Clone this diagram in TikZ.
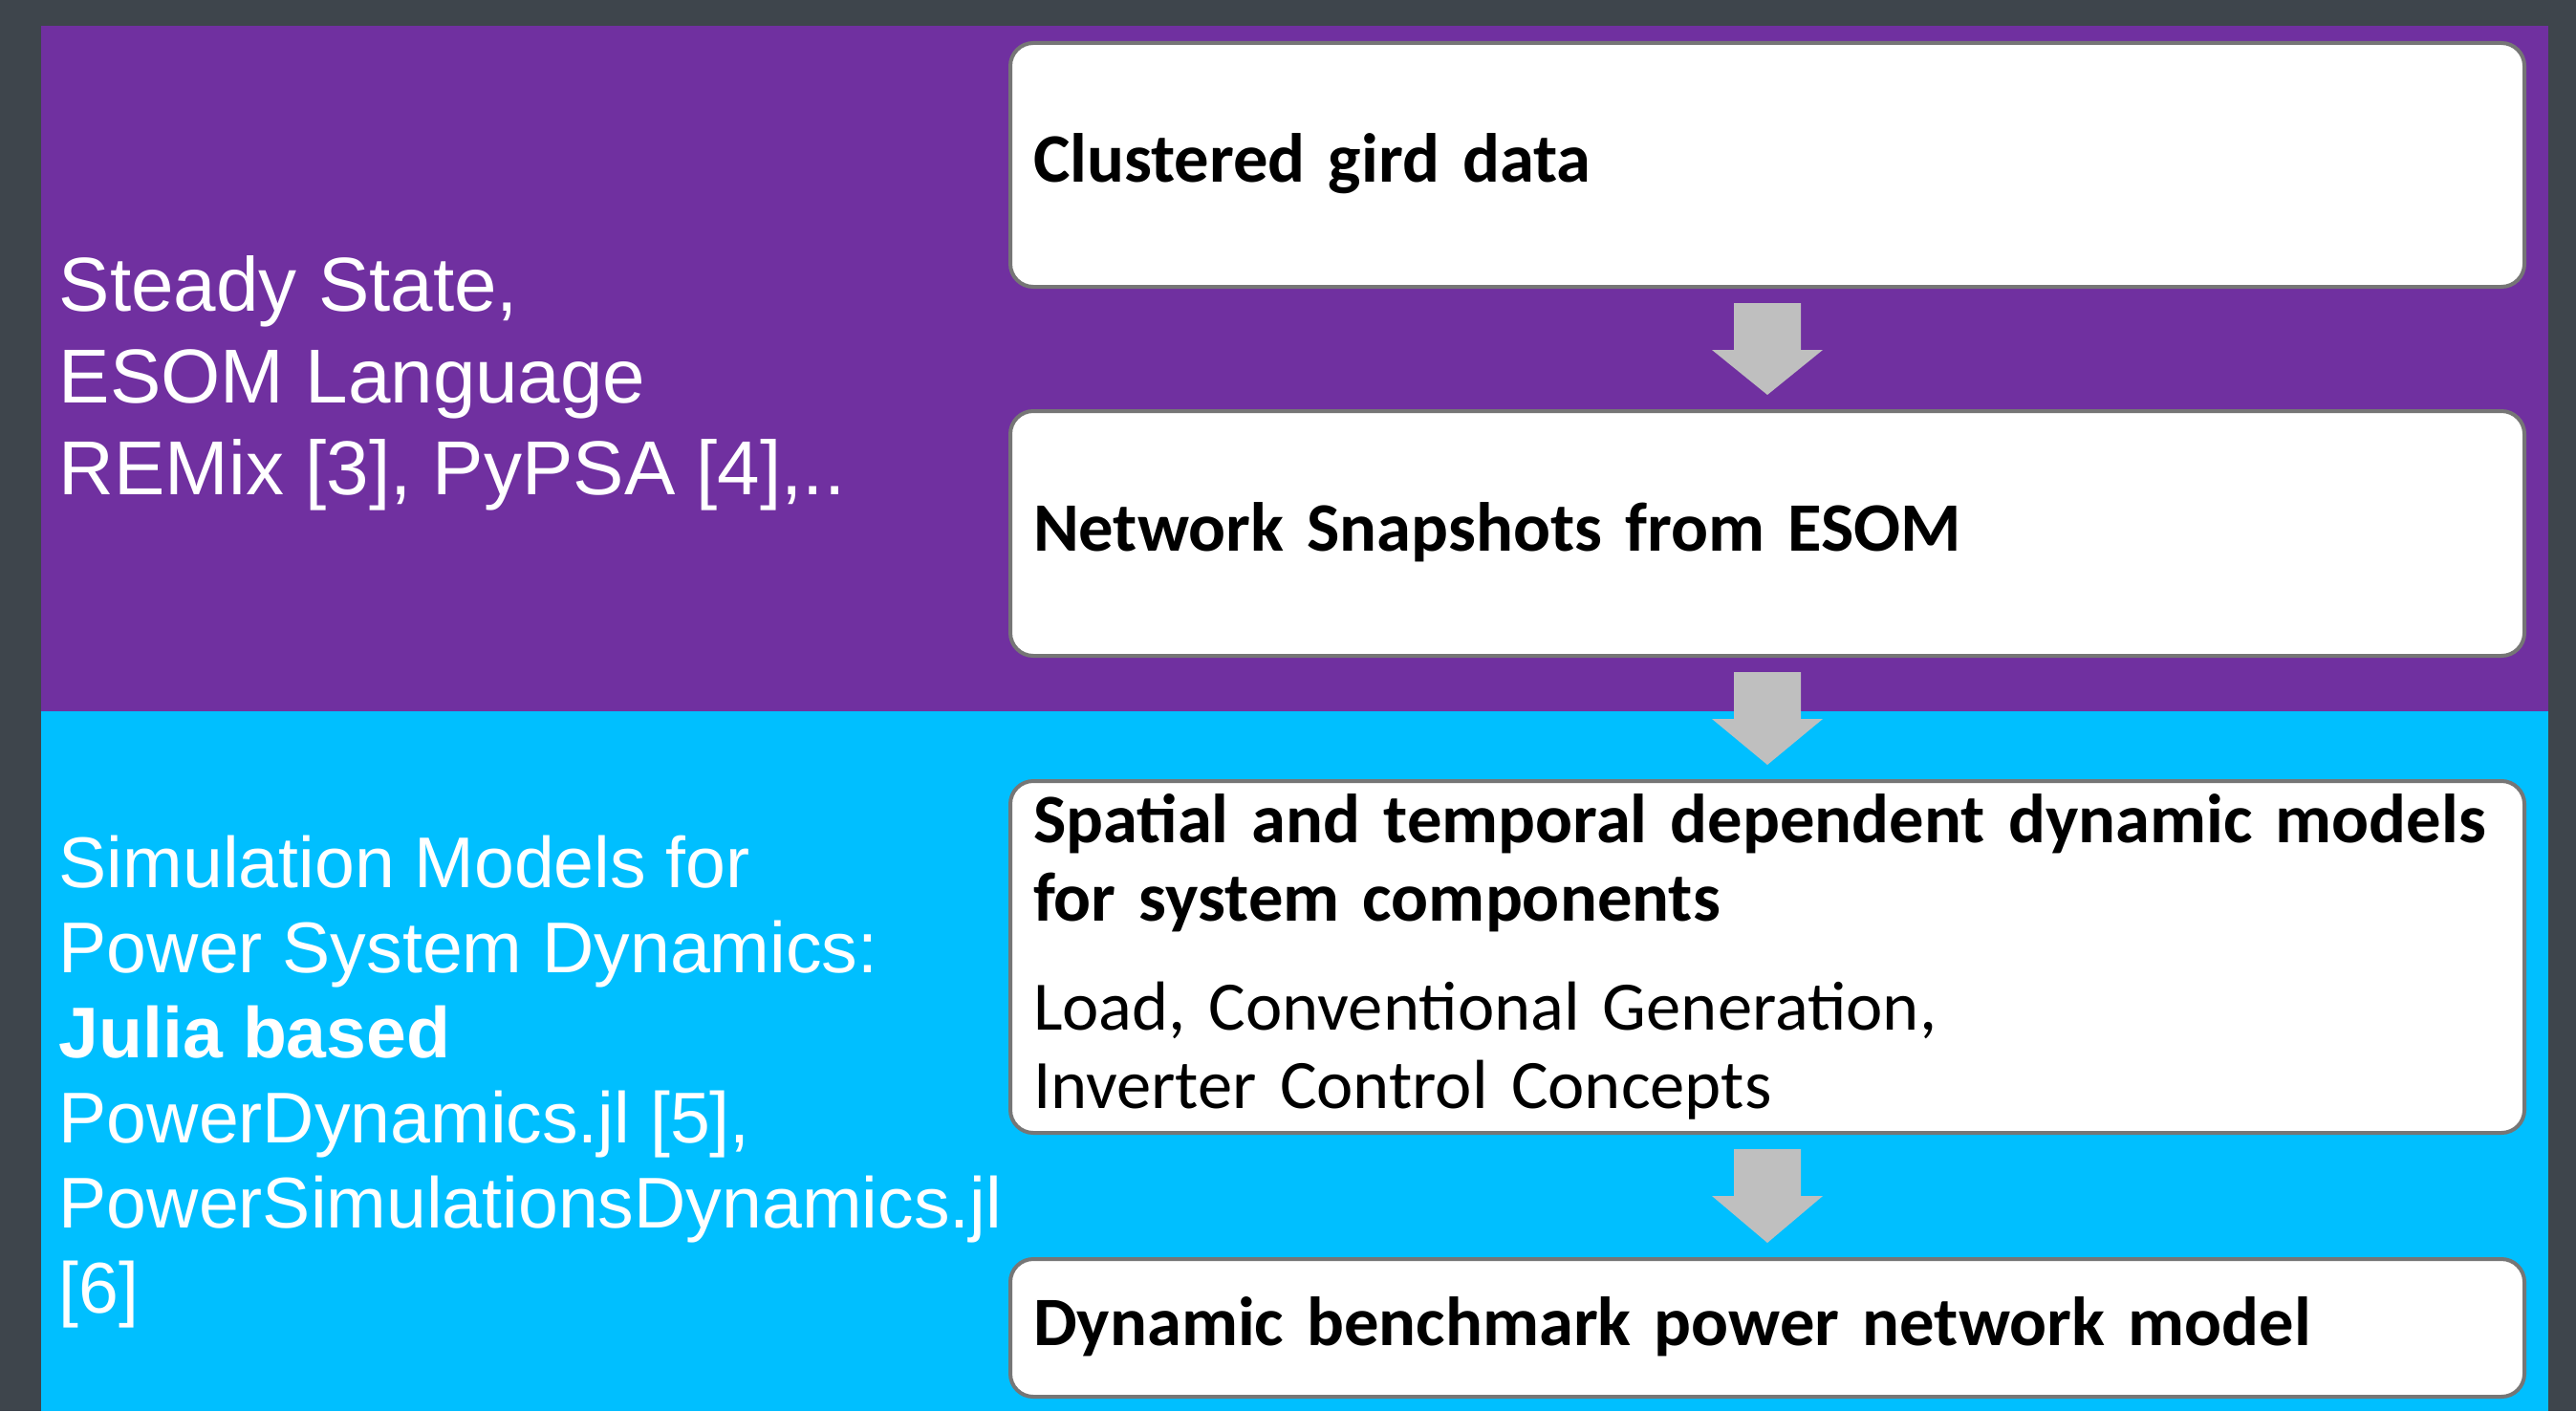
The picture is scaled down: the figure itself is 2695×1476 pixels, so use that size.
\documentclass[tikz,border=0pt]{standalone}
\usepackage{fontspec}
\setmainfont{Carlito}
\newfontfamily\arialf{Liberation Sans}
\usetikzlibrary{calc}
\definecolor{darkbg}{HTML}{3E454C}
\definecolor{purplebg}{HTML}{7030A0}
\definecolor{bluebg}{HTML}{00BFFF}
\definecolor{boxline}{HTML}{767676}
\definecolor{arrowgray}{HTML}{BFBFBF}
\newcommand\blkarrow[2]{%
  \fill[arrowgray] ($(#1.south)+(-35,15)$) -- ($(#1.south)+(35,15)$)
    -- ($(#1.south)+(35,64)$) -- ($(#1.south)+(58,64)$)
    -- ($(#2.north)+(0,-15)$)
    -- ($(#1.south)+(-58,64)$) -- ($(#1.south)+(-35,64)$) -- cycle;}
\begin{document}
\begin{tikzpicture}[x=0.25pt,y=-0.25pt,
  box/.style={draw=boxline, line width=1pt, fill=white, rounded corners=6pt,
    minimum width=396pt, text width=384pt, inner xsep=6pt, inner ysep=0pt,
    align=left, font=\fontsize{18.15}{20.5}\selectfont},
  oneline/.style={box, text height=13.5pt, text depth=4.5pt, font=\bfseries\fontsize{18.15}{20.5}\selectfont},
  lefttext/.style={text=white, align=left, inner sep=0pt, anchor=base west}]
\fill[darkbg] (0,0) rectangle (2695,1476);
\fill[purplebg] (43,27) rectangle (2666,744);
\fill[bluebg] (43,744) rectangle (2666,1476);

\node[oneline, minimum height=63.75pt] (b1) at (1849,172.5) {Clustered gird data};
\node[oneline, minimum height=64pt] (b2) at (1849,558) {Network Snapshots from ESOM};
\node[box, minimum height=92pt] (b3) at (1849,1001)
  {\textbf{Spatial and temporal dependent dynamic models}\\\textbf{for system components}\\[8pt]Load, Conventional Generation,\\Inverter Control Concepts};
\node[oneline, minimum height=36pt] (b4) at (1849,1389) {Dynamic benchmark power network model};

\blkarrow{b1}{b2}
\blkarrow{b2}{b3}
\blkarrow{b3}{b4}

\node[lefttext, font=\arialf\fontsize{20}{24}\selectfont] (steady) at (61,517)
  {Steady State,\\ESOM Language\\REMix [3], PyPSA [4],..};
\node[lefttext, font=\arialf\fontsize{18.8}{22.25}\selectfont] (sim) at (61,1373)
  {Simulation Models for\\Power System Dynamics:\\\textbf{Julia based}\\PowerDynamics.jl [5],\\PowerSimulationsDynamics.jl\\{}[6]};
\end{tikzpicture}
\end{document}
